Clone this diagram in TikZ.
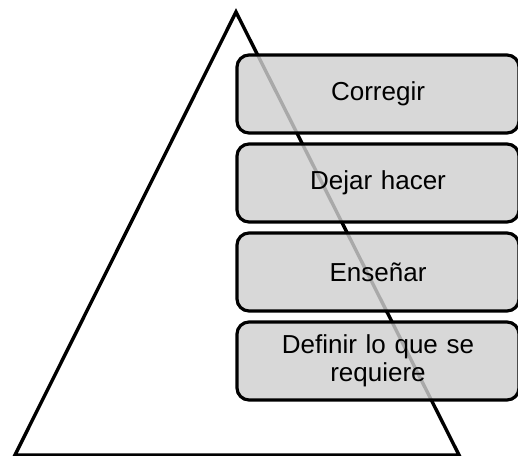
\documentclass[tikz,border=0pt]{standalone}
\usepackage{fontspec}
\setmainfont{Liberation Sans}
\begin{document}
\begin{tikzpicture}[x=1pt,y=-1pt,
  level/.style={draw=black, line width=3.2pt, rounded corners=12pt,
    fill=black!19, fill opacity=0.82, text opacity=1,
    minimum width=282pt, minimum height=78pt, text width=260pt, align=center,
    font=\fontsize{26}{28}\selectfont, inner sep=0pt},
  tri/.style={draw=black, line width=3.4pt, line join=miter}]
\useasboundingbox (0,0) rectangle (518,455);
\draw[tri] (15,455) -- (236,12) -- (459,455) -- cycle;
\node[level] (c) at (378,94) {Corregir};
\node[level] (d) at (378,183) {Dejar hacer};
\node[level] (e) at (378,272) {Enseñar};
\node[level] (f) at (378,361) {Definir lo que se\\requiere};
\end{tikzpicture}
\end{document}
